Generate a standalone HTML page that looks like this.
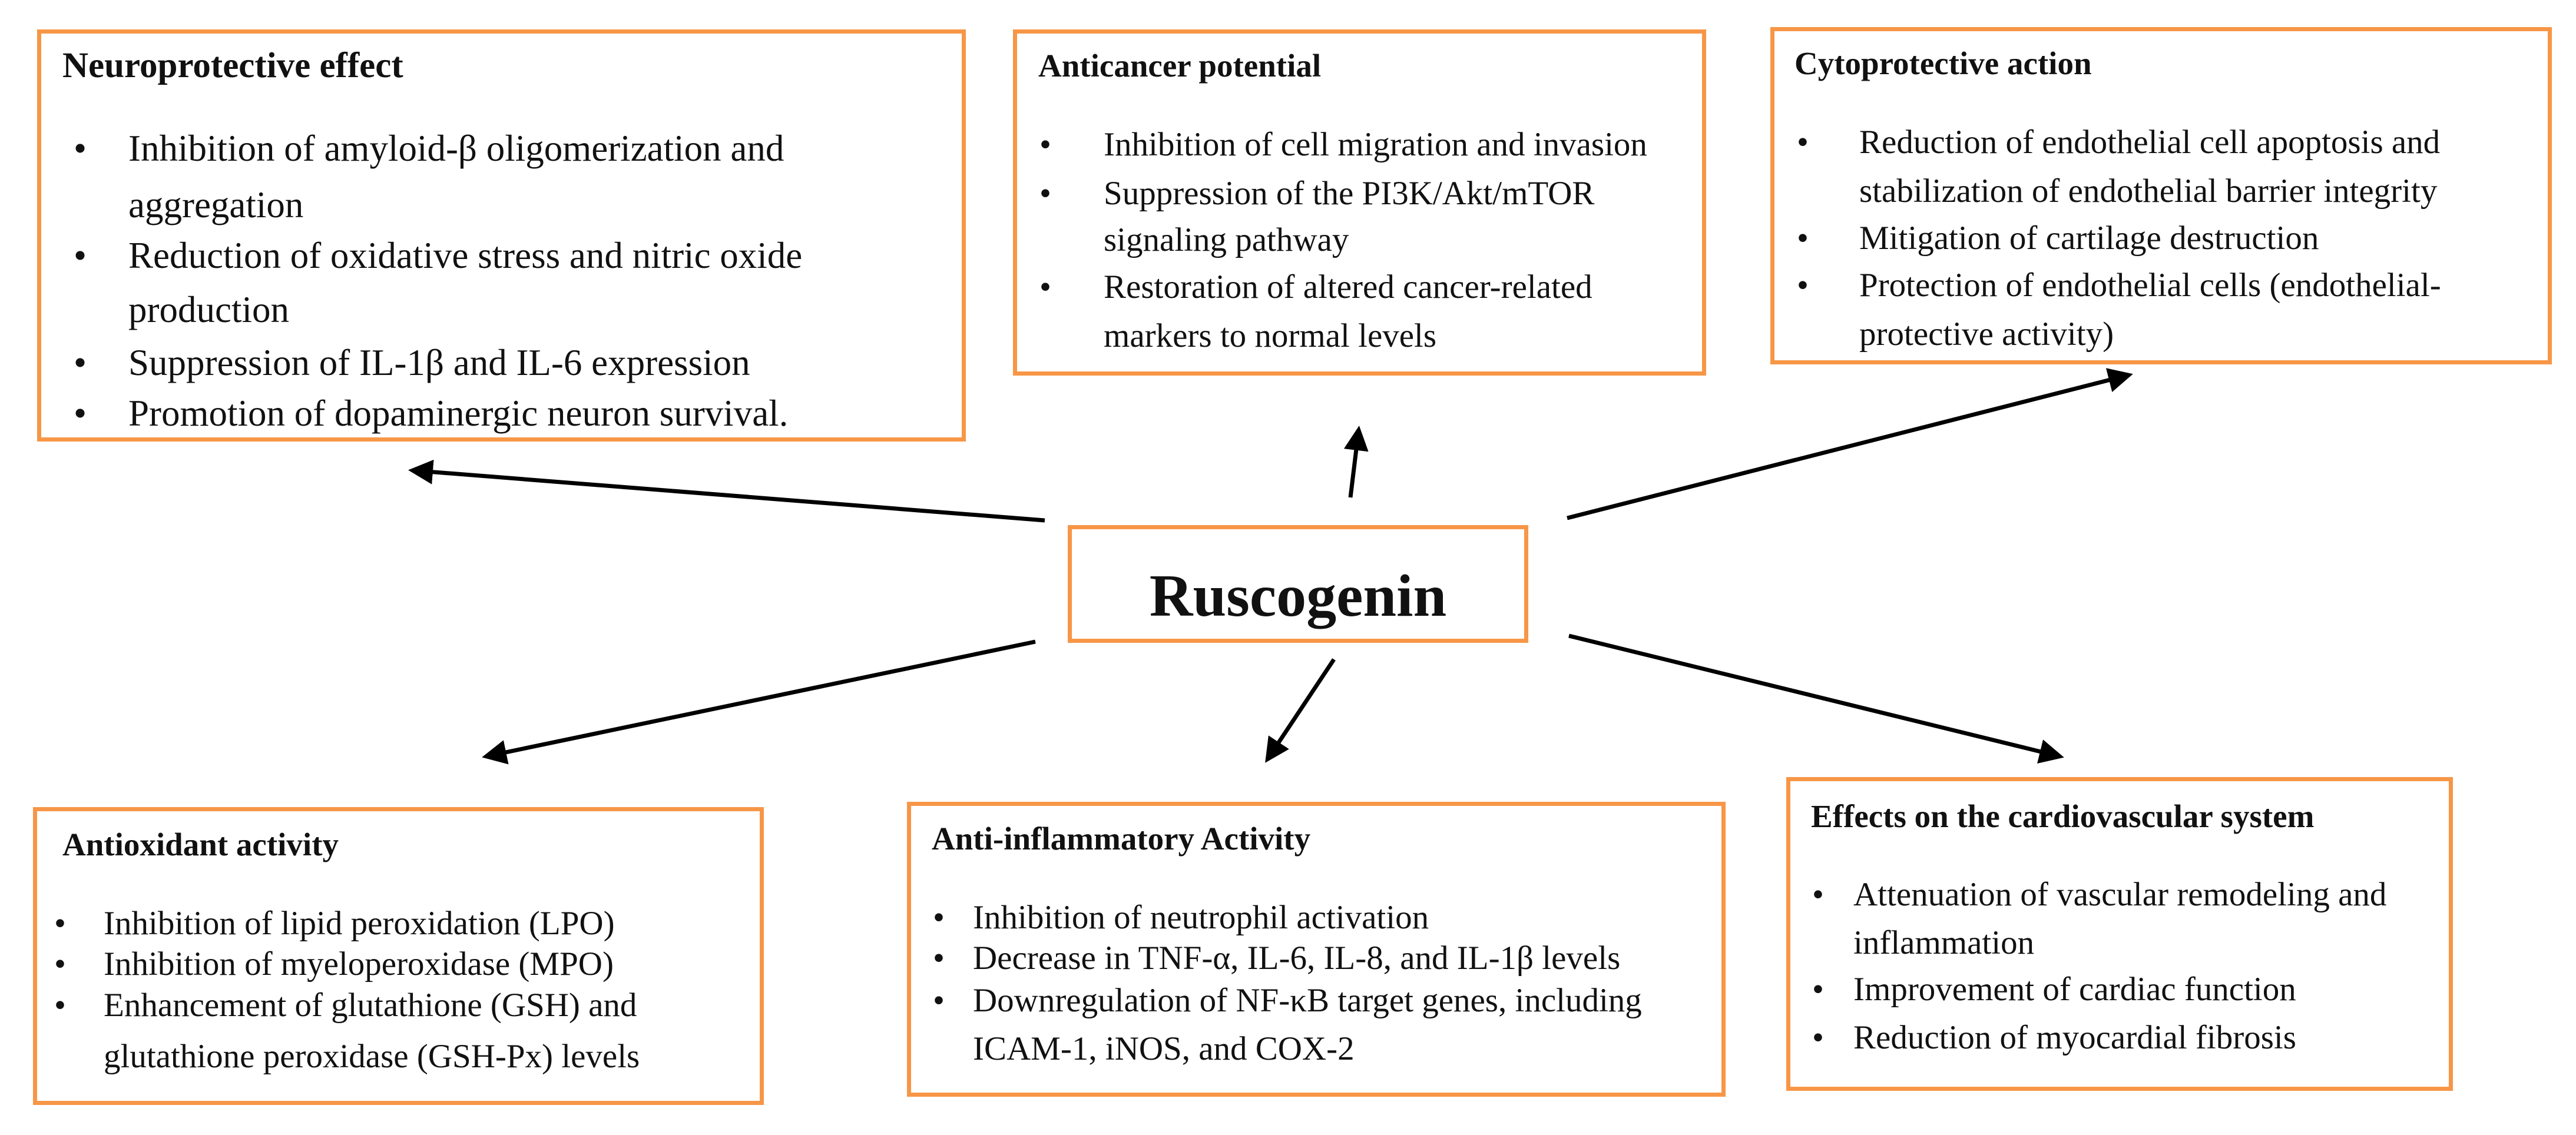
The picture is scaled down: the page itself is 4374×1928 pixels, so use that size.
<!DOCTYPE html>
<html><head><meta charset="utf-8"><style>
body{margin:0;width:4374px;height:1928px;background:#fff;position:relative;overflow:hidden;font-family:"Liberation Serif",serif;color:#111}
.b{position:absolute;border:7px solid #F79646;box-sizing:border-box;background:#fff}
.t{position:absolute;white-space:nowrap;line-height:60px;height:60px}
.h{font-weight:bold}
</style></head><body>
<svg width="4374" height="1928" style="position:absolute;left:0;top:0">
<defs><marker id="a" markerWidth="6" markerHeight="6" refX="5" refY="3" orient="auto" markerUnits="strokeWidth"><path d="M0,0 L6,3 L0,6 z" fill="#000"/></marker></defs>
<g stroke="#000" stroke-width="7" marker-end="url(#a)">
<line x1="1774" y1="884" x2="700" y2="799"/>
<line x1="2293" y1="845" x2="2307" y2="730"/>
<line x1="2661" y1="880" x2="3615" y2="637"/>
<line x1="1758" y1="1090" x2="825" y2="1285"/>
<line x1="2265" y1="1120" x2="2152" y2="1290"/>
<line x1="2664" y1="1080" x2="3498" y2="1285"/>
</g></svg>

<div class="b" style="left:63px;top:50px;width:1577px;height:700px"></div>
<div class="b" style="left:1720px;top:50px;width:1177px;height:588px"></div>
<div class="b" style="left:3006px;top:46px;width:1327px;height:573px"></div>
<div class="b" style="left:1813px;top:892px;width:782px;height:200px"></div>
<div class="b" style="left:56px;top:1371px;width:1241px;height:506px"></div>
<div class="b" style="left:1540px;top:1362px;width:1390px;height:501px"></div>
<div class="b" style="left:3033px;top:1320px;width:1132px;height:533px"></div>

<div class="t h" style="top:958px;font-size:102px;height:110px;line-height:110px;width:782px;text-align:center;left:1813px">Ruscogenin</div>

<div style="font-size:63px">
<div class="t h" style="left:106px;top:82px;font-size:61px">Neuroprotective effect</div>
<div class="t" style="left:125px;top:222px">•</div><div class="t" style="left:218px;top:222px">Inhibition of amyloid-β oligomerization and</div>
<div class="t" style="left:218px;top:318px">aggregation</div>
<div class="t" style="left:125px;top:404px">•</div><div class="t" style="left:218px;top:404px">Reduction of oxidative stress and nitric oxide</div>
<div class="t" style="left:218px;top:496px">production</div>
<div class="t" style="left:125px;top:586px">•</div><div class="t" style="left:218px;top:586px">Suppression of IL-1β and IL-6 expression</div>
<div class="t" style="left:125px;top:672px">•</div><div class="t" style="left:218px;top:672px">Promotion of dopaminergic neuron survival.</div>
</div>

<div style="font-size:57px">
<div class="t h" style="left:1763px;top:82px;font-size:55px">Anticancer potential</div>
<div class="t" style="left:1765px;top:216px">•</div><div class="t" style="left:1874px;top:216px">Inhibition of cell migration and invasion</div>
<div class="t" style="left:1765px;top:299px">•</div><div class="t" style="left:1874px;top:299px">Suppression of the PI3K/Akt/mTOR</div>
<div class="t" style="left:1874px;top:378px">signaling pathway</div>
<div class="t" style="left:1765px;top:458px">•</div><div class="t" style="left:1874px;top:458px">Restoration of altered cancer-related</div>
<div class="t" style="left:1874px;top:541px">markers to normal levels</div>

<div class="t h" style="left:3047px;top:78px;font-size:55px">Cytoprotective action</div>
<div class="t" style="left:3051px;top:212px">•</div><div class="t" style="left:3157px;top:212px">Reduction of endothelial cell apoptosis and</div>
<div class="t" style="left:3157px;top:295px">stabilization of endothelial barrier integrity</div>
<div class="t" style="left:3051px;top:375px">•</div><div class="t" style="left:3157px;top:375px">Mitigation of cartilage destruction</div>
<div class="t" style="left:3051px;top:455px">•</div><div class="t" style="left:3157px;top:455px">Protection of endothelial cells (endothelial-</div>
<div class="t" style="left:3157px;top:538px">protective activity)</div>

<div class="t h" style="left:106px;top:1405px;font-size:55px">Antioxidant activity</div>
<div class="t" style="left:92px;top:1539px">•</div><div class="t" style="left:176px;top:1539px">Inhibition of lipid peroxidation (LPO)</div>
<div class="t" style="left:92px;top:1608px">•</div><div class="t" style="left:176px;top:1608px">Inhibition of myeloperoxidase (MPO)</div>
<div class="t" style="left:92px;top:1678px">•</div><div class="t" style="left:176px;top:1678px">Enhancement of glutathione (GSH) and</div>
<div class="t" style="left:176px;top:1765px">glutathione peroxidase (GSH-Px) levels</div>

<div class="t h" style="left:1582px;top:1395px;font-size:55px">Anti-inflammatory Activity</div>
<div class="t" style="left:1584px;top:1529px">•</div><div class="t" style="left:1652px;top:1529px">Inhibition of neutrophil activation</div>
<div class="t" style="left:1584px;top:1598px">•</div><div class="t" style="left:1652px;top:1598px">Decrease in TNF-α, IL-6, IL-8, and IL-1β levels</div>
<div class="t" style="left:1584px;top:1670px">•</div><div class="t" style="left:1652px;top:1670px">Downregulation of NF-κB target genes, including</div>
<div class="t" style="left:1652px;top:1752px">ICAM-1, iNOS, and COX-2</div>

<div class="t h" style="left:3075px;top:1357px;font-size:55px">Effects on the cardiovascular system</div>
<div class="t" style="left:3077px;top:1490px">•</div><div class="t" style="left:3147px;top:1490px">Attenuation of vascular remodeling and</div>
<div class="t" style="left:3147px;top:1572px">inflammation</div>
<div class="t" style="left:3077px;top:1651px">•</div><div class="t" style="left:3147px;top:1651px">Improvement of cardiac function</div>
<div class="t" style="left:3077px;top:1733px">•</div><div class="t" style="left:3147px;top:1733px">Reduction of myocardial fibrosis</div>
</div>
</body></html>
